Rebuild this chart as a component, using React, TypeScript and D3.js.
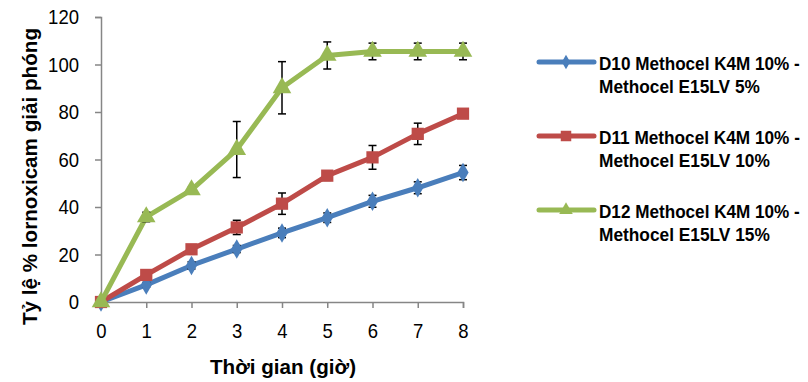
import { useRef, useEffect } from "react"
import * as d3 from "d3"

const hours = [0, 1, 2, 3, 4, 5, 6, 7, 8]
const yTicks = [0, 20, 40, 60, 80, 100, 120]

const seriesNames = [
  ["D10 Methocel K4M 10% -", "Methocel E15LV 5%"],
  ["D11 Methocel K4M 10% -", "Methocel E15LV 10%"],
  ["D12 Methocel K4M 10% -", "Methocel E15LV 15%"],
]
const d10 = [0, 7.2, 15.4, 22.3, 29.1, 35.5, 42.4, 48.1, 54.5]
const d11 = [0, 11.4, 22.2, 31.4, 41.4, 53.2, 60.9, 70.8, 79.3]
const d12 = [0, 35.8, 47.2, 64.2, 90.2, 103.8, 105.5, 105.5, 105.5]
const d10Err = [0, 1, 1.5, 1.5, 2, 2, 2.5, 2.5, 3]
const d11Err = [0, 1, 1.5, 3, 4.5, 2, 5, 4.5, 1]
const d12Err = [0, 2, 1, 11.8, 11, 5.7, 3.5, 3.5, 3.5]

const colors = ["#4A7EBB", "#BE4B48", "#98B954"]
const shapes = ["diamond", "square", "triangle"]

export default function App() {
  const svgRef = useRef<SVGSVGElement | null>(null)

  useEffect(() => {
    if (!svgRef.current) return
    const svg = d3.select(svgRef.current)
    svg.selectAll("*").remove()

    const x = d3.scaleLinear().domain([0, 8]).range([101, 463])
    const y = d3.scaleLinear().domain([0, 120]).range([302, 17])
    const axisColor = "#868686"
    const font = "'Liberation Sans', Arial, sans-serif"
    // no narrow font installed, so squeeze glyphs to the reference widths
    const squeeze = (sel: any, w: number) =>
      sel.attr("textLength", w).attr("lengthAdjust", "spacingAndGlyphs")

    // Y axis
    const yAxis = svg.append("g").attr("transform", `translate(${x(0)},0)`)
      .call(d3.axisLeft(y).tickValues(yTicks).tickSize(6).tickPadding(16).tickFormat(d3.format("d")))
    yAxis.select(".domain").attr("stroke", axisColor).attr("stroke-width", 1.5)
    yAxis.selectAll(".tick line").attr("stroke", axisColor).attr("stroke-width", 1.5)
    yAxis.selectAll("text").attr("font-family", font).attr("font-size", 21).attr("fill", "#000")
      .attr("textLength", (d: any) => String(d).length * 10.3).attr("lengthAdjust", "spacingAndGlyphs")

    // X axis
    const xAxis = svg.append("g").attr("transform", `translate(0,${y(0)})`)
      .call(d3.axisBottom(x).tickValues(hours).tickSize(6).tickPadding(15).tickFormat(d3.format("d")))
    xAxis.select(".domain").attr("stroke", axisColor).attr("stroke-width", 1.5)
    xAxis.selectAll(".tick line").attr("stroke", axisColor).attr("stroke-width", 1.5)
    xAxis.selectAll("text").attr("font-family", font).attr("font-size", 21).attr("fill", "#000")
      .attr("textLength", 10.3).attr("lengthAdjust", "spacingAndGlyphs")

    // Axis titles
    squeeze(svg.append("text")
      .attr("transform", `translate(37,${(28 + 325) / 2}) rotate(-90)`)
      .attr("text-anchor", "middle")
      .attr("font-family", font).attr("font-weight", "bold").attr("font-size", 20)
      .text("Tỷ lệ % lornoxicam giải phóng"), 297)

    squeeze(svg.append("text")
      .attr("x", 283).attr("y", 374)
      .attr("text-anchor", "middle")
      .attr("font-family", font).attr("font-weight", "bold").attr("font-size", 20)
      .text("Thời gian (giờ)"), 146)

    const allData = [d10, d11, d12]
    const allErr = [d10Err, d11Err, d12Err]

    const symbolFor = (s: string) =>
      s === "diamond"
        ? d3.symbol(d3.symbolDiamond, 110)
        : s === "square"
          ? d3.symbol(d3.symbolSquare, 150)
          : d3.symbol(d3.symbolTriangle, 150)

    const line = d3.line<number>().x((_, i) => x(hours[i])).y((d) => y(d))

    allData.forEach((vals, si) => {
      const g = svg.append("g")
      g.append("path")
        .datum(vals)
        .attr("fill", "none")
        .attr("stroke", colors[si])
        .attr("stroke-width", 5)
        .attr("stroke-linejoin", "round")
        .attr("d", line)

      // error bars
      vals.forEach((v, i) => {
        const e = allErr[si][i]
        if (!e) return
        const cx = x(hours[i])
        const eg = g.append("g").attr("stroke", "#000").attr("stroke-width", 1.5)
        eg.append("line").attr("x1", cx).attr("x2", cx).attr("y1", y(v + e)).attr("y2", y(v - e))
        eg.append("line").attr("x1", cx - 4).attr("x2", cx + 4).attr("y1", y(v + e)).attr("y2", y(v + e))
        eg.append("line").attr("x1", cx - 4).attr("x2", cx + 4).attr("y1", y(v - e)).attr("y2", y(v - e))
      })

      g.selectAll("path.marker")
        .data(vals)
        .enter()
        .append("path")
        .attr("class", "marker")
        .attr("transform", (d, i) => `translate(${x(hours[i])},${y(d)})`)
        .attr("d", symbolFor(shapes[si])())
        .attr("fill", colors[si])
    })

    // Legend
    const legendY = [62, 136, 210]
    const lineWidths = [[201, 161], [201, 171], [201, 171]]
    seriesNames.forEach((lines, si) => {
      const ly = legendY[si]
      svg.append("line")
        .attr("x1", 539).attr("x2", 594).attr("y1", ly).attr("y2", ly)
        .attr("stroke", colors[si]).attr("stroke-width", 5).attr("stroke-linecap", "round")
      const small = shapes[si] === "diamond"
        ? d3.symbol(d3.symbolDiamond, 60)
        : shapes[si] === "square"
          ? d3.symbol(d3.symbolSquare, 110)
          : d3.symbol(d3.symbolTriangle, 80)
      svg.append("path")
        .attr("transform", `translate(566,${ly})`)
        .attr("d", small())
        .attr("fill", colors[si])
      lines.forEach((t, li) => {
        const txt = svg.append("text")
          .attr("font-family", font).attr("font-weight", "bold").attr("font-size", 19)
          .text(t)
        // scale horizontally so the bounding box matches the narrow reference text
        const natural = (txt.node() as SVGTextElement).getComputedTextLength() || lineWidths[si][li]
        const k = Math.min(1, lineWidths[si][li] / natural)
        txt.attr("transform", `translate(599,${ly + 8 + li * 23}) scale(${k},1)`)
      })
    })
  }, [])

  return (
    <svg ref={svgRef} width={808} height={382} style={{ display: "block", position: "absolute", left: 0, top: 0, background: "#fff" }}></svg>
  )
}
